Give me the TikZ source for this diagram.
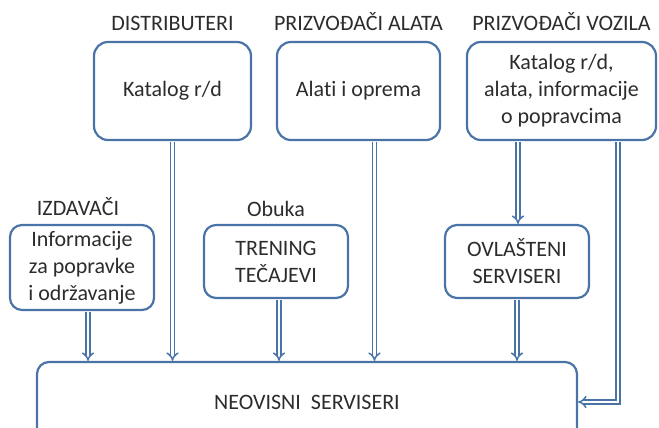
\documentclass[tikz,border=0pt]{standalone}
\usepackage{fontspec}
\setmainfont{Carlito}[Ligatures=NoCommon]
\usepackage{tikz}
\usetikzlibrary{arrows.meta,positioning}

\definecolor{frame}{HTML}{4A74A8}
\definecolor{ink}{HTML}{2C2C2C}

\begin{document}
\begin{tikzpicture}[
      x=1pt, y=1pt,
      font=\fontsize{22}{27}\selectfont,
      text=ink,
      node distance=9pt,
      % boxes and their headings
      box/.style={
        draw=frame,
        line width=2.2pt,
        rounded corners=14pt,
        align=center,
        inner sep=2pt
      },
      head/.style={inner sep=0pt},
      flow/.style={draw=frame, double=white, double distance=2.6pt, line width=1.5pt, -{Implies}}
    ]
    \useasboundingbox (0,0) rectangle (659,428);
    \clip (0,0) rectangle (659,428);

    % top row
    \node[box, minimum width=157, minimum height=98] (dist) at (172.5,337) {Katalog r/d};
    \node[box, minimum width=163, minimum height=98] (alata) at (358.5,337) {Alati i oprema};
    \node[box, minimum width=189, minimum height=98] (voz) at (561.5,337) {Katalog r/d,\\alata, informacije\\o popravcima};
    \node[head, above=10pt of dist] {DISTRIBUTERI};
    \node[head, above=10pt of alata] {PRIZVOĐAČI ALATA};
    \node[head, above=10pt of voz] {PRIZVOĐAČI VOZILA};

    % middle row
    \node[box, rounded corners=12pt, minimum width=144, minimum height=85] (izd) at (82,160.5) {Informacije\\za popravke\\i održavanje};
    \node[box, rounded corners=12pt, minimum width=144, minimum height=73] (obuka) at (276,166.5) {TRENING\\TEČAJEVI};
    \node[box, rounded corners=12pt, minimum width=144, minimum height=73] (ovl) at (517,166.5) {OVLAŠTENI\\SERVISERI};
    \node[head, above=8pt of izd, xshift=-4pt] {IZDAVAČI};
    \node[head, above=7pt of obuka] {Obuka};

    % bottom
    \node[box, rounded corners=12pt, minimum width=540, minimum height=80] (neo) at (307,26) {NEOVISNI~~SERVISERI};

    % flows
    \draw[flow] ([yshift=-1pt]dist.south) -- (dist.south |- neo.north);
    \draw[flow] ([xshift=16pt,yshift=-1pt]alata.south) -- ([xshift=16pt]alata.south |- neo.north);
    \draw[flow] ([xshift=-43.5pt,yshift=-1pt]voz.south) -- ([xshift=-43.5pt]voz.south |- ovl.north);
    \draw[flow] ([xshift=56.5pt,yshift=-1pt]voz.south) |- (neo.east);
    \draw[flow] ([xshift=6pt,yshift=-1pt]izd.south) -- ([xshift=6pt]izd.south |- neo.north);
    \draw[flow] ([xshift=3pt,yshift=-1pt]obuka.south) -- ([xshift=3pt]obuka.south |- neo.north);
    \draw[flow] ([yshift=-1pt]ovl.south) -- (ovl.south |- neo.north);
  \end{tikzpicture}
\end{document}
